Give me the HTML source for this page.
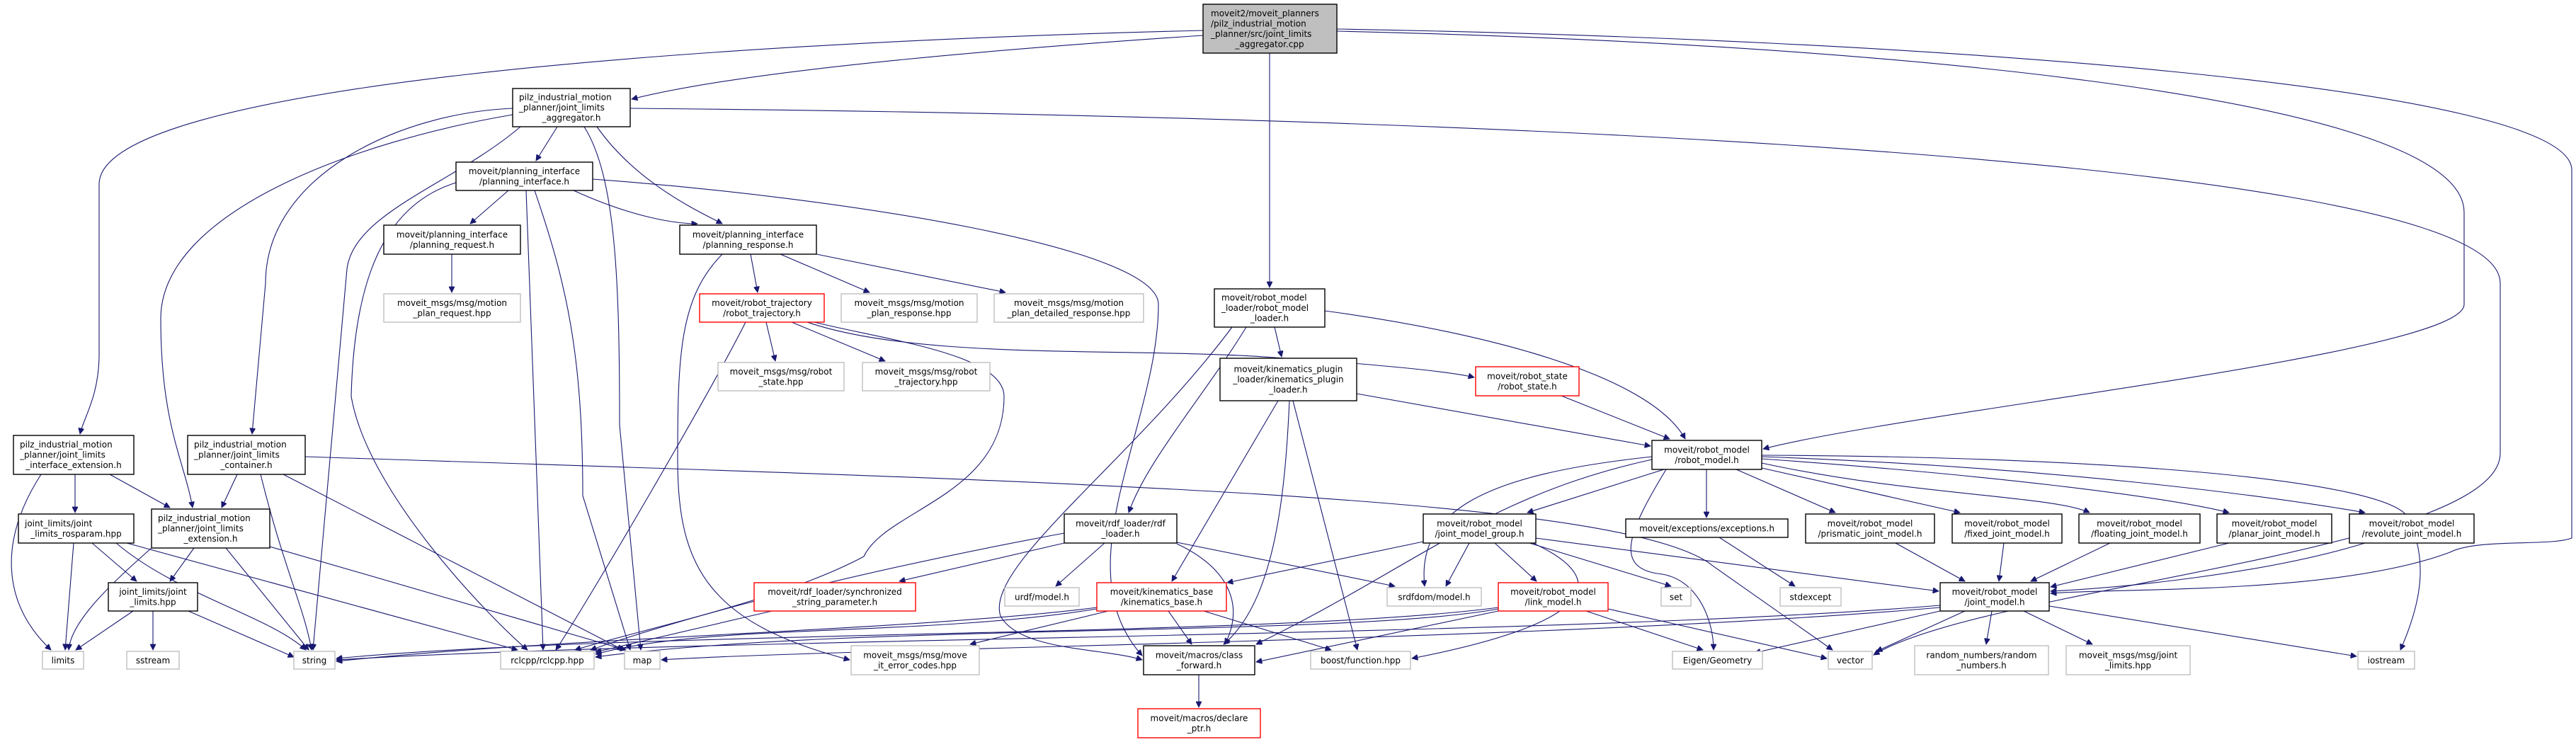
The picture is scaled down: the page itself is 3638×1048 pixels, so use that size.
<!DOCTYPE html>
<html><head><meta charset="utf-8"><style>
html,body{margin:0;padding:0;background:#fff;}
svg{display:block;}
text{font-family:"DejaVu Sans","Liberation Sans",sans-serif;font-size:12px;fill:#000;}
.b{fill:#fff;stroke:#000;stroke-width:1.4;}
.g{fill:#fff;stroke:#bfbfbf;stroke-width:1.4;}
.r{fill:#fff;stroke:#ff0000;stroke-width:1.4;}
.root{fill:#bfbfbf;stroke:#000;stroke-width:1.4;}
path.e{fill:none;stroke:#191970;stroke-width:1.1;marker-end:url(#a);}
</style></head><body>
<svg width="3638" height="1048" viewBox="0 0 3638 1048" xmlns="http://www.w3.org/2000/svg">
<defs><marker id="a" viewBox="0 0 10 10" refX="10" refY="5" markerWidth="11" markerHeight="8" markerUnits="userSpaceOnUse" orient="auto"><path d="M0,0 L10,5 L0,10 z" fill="#191970" stroke="#191970"/></marker></defs>

<!-- edges -->
<path class="e" d="M1699,50 C1400,70 1050,100 892,140"/>
<path class="e" d="M1699,43 C1000,60 140,120 140,260 L140,500 C140,560 118,590 113,613"/>
<path class="e" d="M1793,75 L1793,406"/>
<path class="e" d="M1888,44 C2600,60 3480,130 3480,300 L3480,430 C3480,500 2700,580 2490,634"/>
<path class="e" d="M1888,41 C2700,55 3632,120 3632,240 L3632,760 C3600,772 3500,760 3460,780 C3300,840 3000,830 2896,838"/>

<path class="e" d="M787,179 L757,227"/>
<path class="e" d="M843,179 C900,260 990,300 1020,316"/>
<path class="e" d="M825,179 C870,250 875,400 875,600 L905,918"/>
<path class="e" d="M735,179 C640,260 500,300 490,380 L442,918"/>
<path class="e" d="M724,153 C560,160 375,250 375,400 L356,613"/>
<path class="e" d="M724,162 C500,200 227,300 227,450 C227,600 260,650 272,717"/>
<path class="e" d="M890,153 C1700,160 3531,200 3531,400 L3531,640 C3531,780 2800,830 2646,925"/>

<path class="e" d="M718,269 L664,316"/>
<path class="e" d="M810,269 C900,310 960,316 985,316"/>
<path class="e" d="M743,269 C750,500 760,700 767,918"/>
<path class="e" d="M755,269 C800,400 823,500 823,700 L890,918"/>
<path class="e" d="M644,258 C540,290 500,400 496,560 C520,700 700,880 745,918"/>
<path class="e" d="M837,253 C1200,280 1636,350 1636,430 C1636,600 1500,800 1613,926"/>

<path class="e" d="M638,359 L638,413"/>
<path class="e" d="M1060,359 L1070,413"/>
<path class="e" d="M1102,359 L1228,413"/>
<path class="e" d="M1153,359 L1420,413"/>
<path class="e" d="M1020,359 C960,420 957,500 957,650 C957,800 1000,880 1200,932"/>

<path class="e" d="M1082,455 L1095,510"/>
<path class="e" d="M1118,455 L1250,510"/>
<path class="e" d="M1140,455 C1300,510 1600,490 1800,505 C1950,515 2050,525 2082,533"/>
<path class="e" d="M1053,455 C1000,560 830,850 785,918"/>
<path class="e" d="M1150,455 C1250,480 1418,500 1418,560 C1418,700 1250,720 1220,786 C1100,850 900,890 812,918"/>

<path class="e" d="M1800,462 L1810,504"/>
<path class="e" d="M1871,439 C2100,470 2330,530 2380,620"/>
<path class="e" d="M1760,462 C1700,560 1620,650 1594,724"/>
<path class="e" d="M1740,462 C1600,650 1390,800 1413,870 C1440,920 1560,915 1613,932"/>
<path class="e" d="M1916,556 L2331,630"/>
<path class="e" d="M1805,566 L1655,821"/>
<path class="e" d="M1821,566 C1815,700 1800,850 1728,910"/>
<path class="e" d="M1826,566 L1917,918"/>
<path class="e" d="M2205,559 L2358,620"/>

<path class="e" d="M2350,663 L2157,724"/>
<path class="e" d="M2410,663 L2410,731"/>
<path class="e" d="M2333,645 C2100,670 2000,720 2012,828"/>
<path class="e" d="M2333,649 C2100,700 2000,800 1774,910"/>
<path class="e" d="M2353,663 C2300,750 2280,800 2340,810 C2400,815 2420,880 2420,918"/>
<path class="e" d="M2452,663 L2592,724"/>
<path class="e" d="M2488,661 L2768,724"/>
<path class="e" d="M2488,654 C2700,700 2900,700 2951,724"/>
<path class="e" d="M2488,648 C2800,670 3050,700 3148,724"/>
<path class="e" d="M2488,645 C2900,660 3200,700 3340,724"/>
<path class="e" d="M2488,643 C3000,645 3370,680 3400,730 C3430,790 3420,850 3390,918"/>

<path class="e" d="M1560,767 L1491,828"/>
<path class="e" d="M1503,767 L1270,821"/>
<path class="e" d="M1662,766 L1970,828"/>
<path class="e" d="M1662,768 C1730,800 1760,850 1730,910"/>
<path class="e" d="M1503,753 C1250,800 1000,860 834,918"/>

<path class="e" d="M2010,765 L1733,823"/>
<path class="e" d="M2075,767 L2042,828"/>
<path class="e" d="M2111,767 L2170,821"/>
<path class="e" d="M2160,767 L2360,828"/>
<path class="e" d="M2169,760 L2738,835"/>
<path class="e" d="M2165,767 C2280,820 2250,880 1994,930"/>
<path class="e" d="M2428,759 L2535,828"/>

<path class="e" d="M2677,767 L2775,821"/>
<path class="e" d="M2830,767 L2823,821"/>
<path class="e" d="M2980,767 L2868,821"/>
<path class="e" d="M3148,767 L2896,829"/>
<path class="e" d="M3340,767 C3200,810 3000,830 2896,835"/>

<path class="e" d="M2740,863 L2478,922"/>
<path class="e" d="M2775,863 L2650,920"/>
<path class="e" d="M2813,863 L2805,910"/>
<path class="e" d="M2858,863 L2955,910"/>
<path class="e" d="M2894,856 L3328,927"/>
<path class="e" d="M2740,855 C2200,900 1000,900 475,932"/>
<path class="e" d="M2740,858 C2200,905 1200,915 934,932"/>

<path class="e" d="M2116,863 L1774,935"/>
<path class="e" d="M2240,863 L2405,918"/>
<path class="e" d="M2271,860 L2580,930"/>
<path class="e" d="M2116,858 C1800,900 900,890 475,930"/>
<path class="e" d="M2116,860 C1900,900 1200,880 841,928"/>

<path class="e" d="M1650,863 L1683,910"/>
<path class="e" d="M1700,863 L1880,918"/>
<path class="e" d="M1565,863 L1370,910"/>
<path class="e" d="M1549,858 C1300,890 800,900 475,934"/>
<path class="e" d="M1549,860 C1300,900 1000,880 841,924"/>
<path class="e" d="M1090,863 L841,921"/>
<path class="e" d="M1693,953 L1693,999"/>

<path class="e" d="M106,670 L106,724"/>
<path class="e" d="M155,670 L240,717"/>
<path class="e" d="M58,670 C0,760 0,850 72,918"/>
<path class="e" d="M335,670 L313,717"/>
<path class="e" d="M368,670 C400,800 430,860 440,918"/>
<path class="e" d="M400,670 L880,918"/>
<path class="e" d="M431,645 C1500,680 2300,700 2420,800 L2588,918"/>
<path class="e" d="M104,767 L92,918"/>
<path class="e" d="M130,767 L193,821"/>
<path class="e" d="M164,767 C250,840 380,870 432,918"/>
<path class="e" d="M179,767 L731,918"/>
<path class="e" d="M274,774 L240,821"/>
<path class="e" d="M214,774 C150,830 100,880 97,918"/>
<path class="e" d="M319,774 L436,918"/>
<path class="e" d="M381,772 L884,918"/>
<path class="e" d="M188,863 L107,918"/>
<path class="e" d="M216,863 L216,918"/>
<path class="e" d="M266,863 L415,928"/>

<!-- nodes -->
<rect class="root" x="1699" y="6" width="189" height="69"/>
<text x="1710" y="23">moveit2/moveit_planners</text><text x="1710" y="37.5">/pilz_industrial_motion</text><text x="1710" y="52">_planner/src/joint_limits</text><text x="1793" y="66.5" text-anchor="middle">_aggregator.cpp</text>

<rect class="b" x="724" y="125" width="166" height="54"/>
<text x="733" y="141.5">pilz_industrial_motion</text><text x="733" y="156">_planner/joint_limits</text><text x="807" y="170.5" text-anchor="middle">_aggregator.h</text>

<rect class="b" x="644" y="229" width="193" height="40"/>
<text x="740.5" y="246" text-anchor="middle">moveit/planning_interface</text><text x="740.5" y="260.5" text-anchor="middle">/planning_interface.h</text>

<rect class="b" x="542" y="318" width="193" height="41"/>
<text x="638.5" y="335.5" text-anchor="middle">moveit/planning_interface</text><text x="638.5" y="350" text-anchor="middle">/planning_request.h</text>

<rect class="b" x="960" y="318" width="193" height="41"/>
<text x="1056.5" y="335.5" text-anchor="middle">moveit/planning_interface</text><text x="1056.5" y="350" text-anchor="middle">/planning_response.h</text>

<rect class="g" x="542" y="415" width="193" height="40"/>
<text x="638.5" y="432" text-anchor="middle">moveit_msgs/msg/motion</text><text x="638.5" y="446.5" text-anchor="middle">_plan_request.hpp</text>

<rect class="r" x="988" y="415" width="176" height="40"/>
<text x="1076" y="432" text-anchor="middle">moveit/robot_trajectory</text><text x="1076" y="446.5" text-anchor="middle">/robot_trajectory.h</text>

<rect class="g" x="1188" y="415" width="192" height="40"/>
<text x="1284" y="432" text-anchor="middle">moveit_msgs/msg/motion</text><text x="1284" y="446.5" text-anchor="middle">_plan_response.hpp</text>

<rect class="g" x="1404" y="415" width="211" height="40"/>
<text x="1509.5" y="432" text-anchor="middle">moveit_msgs/msg/motion</text><text x="1509.5" y="446.5" text-anchor="middle">_plan_detailed_response.hpp</text>

<rect class="b" x="1715" y="408" width="156" height="54"/>
<text x="1725" y="424.5">moveit/robot_model</text><text x="1725" y="439">_loader/robot_model</text><text x="1793" y="453.5" text-anchor="middle">_loader.h</text>

<rect class="b" x="1723" y="506" width="193" height="60"/>
<text x="1819.5" y="525.5" text-anchor="middle">moveit/kinematics_plugin</text><text x="1819.5" y="540" text-anchor="middle">_loader/kinematics_plugin</text><text x="1819.5" y="554.5" text-anchor="middle">_loader.h</text>

<rect class="r" x="2084" y="518" width="146" height="41"/>
<text x="2157" y="535.5" text-anchor="middle">moveit/robot_state</text><text x="2157" y="550" text-anchor="middle">/robot_state.h</text>

<rect class="g" x="1014" y="512" width="178" height="40"/>
<text x="1103" y="529" text-anchor="middle">moveit_msgs/msg/robot</text><text x="1103" y="543.5" text-anchor="middle">_state.hpp</text>

<rect class="g" x="1218" y="512" width="180" height="40"/>
<text x="1308" y="529" text-anchor="middle">moveit_msgs/msg/robot</text><text x="1308" y="543.5" text-anchor="middle">_trajectory.hpp</text>

<rect class="b" x="19" y="615" width="170" height="55"/>
<text x="28" y="632">pilz_industrial_motion</text><text x="28" y="646.5">_planner/joint_limits</text><text x="104" y="661" text-anchor="middle">_interface_extension.h</text>

<rect class="b" x="265" y="615" width="166" height="55"/>
<text x="274" y="632">pilz_industrial_motion</text><text x="274" y="646.5">_planner/joint_limits</text><text x="348" y="661" text-anchor="middle">_container.h</text>

<rect class="b" x="26" y="726" width="163" height="41"/>
<text x="35" y="743.5">joint_limits/joint</text><text x="107.5" y="758" text-anchor="middle">_limits_rosparam.hpp</text>

<rect class="b" x="214" y="719" width="167" height="55"/>
<text x="223" y="736">pilz_industrial_motion</text><text x="223" y="750.5">_planner/joint_limits</text><text x="297.5" y="765" text-anchor="middle">_extension.h</text>

<rect class="b" x="153" y="823" width="126" height="40"/>
<text x="216" y="840" text-anchor="middle">joint_limits/joint</text><text x="216" y="854.5" text-anchor="middle">_limits.hpp</text>

<rect class="g" x="60" y="920" width="58" height="25"/><text x="89" y="937" text-anchor="middle">limits</text>
<rect class="g" x="179" y="920" width="74" height="25"/><text x="216" y="937" text-anchor="middle">sstream</text>
<rect class="g" x="415" y="920" width="58" height="25"/><text x="444" y="937" text-anchor="middle">string</text>
<rect class="g" x="707" y="920" width="132" height="25"/><text x="773" y="937" text-anchor="middle">rclcpp/rclcpp.hpp</text>
<rect class="g" x="882" y="920" width="50" height="25"/><text x="907" y="937" text-anchor="middle">map</text>

<rect class="r" x="1065" y="823" width="228" height="40"/>
<text x="1179" y="840" text-anchor="middle">moveit/rdf_loader/synchronized</text><text x="1179" y="854.5" text-anchor="middle">_string_parameter.h</text>

<rect class="g" x="1202" y="912" width="181" height="41"/>
<text x="1292.5" y="929.5" text-anchor="middle">moveit_msgs/msg/move</text><text x="1292.5" y="944" text-anchor="middle">_it_error_codes.hpp</text>

<rect class="b" x="2333" y="622" width="155" height="41"/>
<text x="2410.5" y="639.5" text-anchor="middle">moveit/robot_model</text><text x="2410.5" y="654" text-anchor="middle">/robot_model.h</text>

<rect class="b" x="1503" y="726" width="159" height="41"/>
<text x="1582.5" y="743.5" text-anchor="middle">moveit/rdf_loader/rdf</text><text x="1582.5" y="758" text-anchor="middle">_loader.h</text>

<rect class="b" x="2010" y="726" width="159" height="41"/>
<text x="2089.5" y="743.5" text-anchor="middle">moveit/robot_model</text><text x="2089.5" y="758" text-anchor="middle">/joint_model_group.h</text>

<rect class="b" x="2296" y="733" width="229" height="26"/><text x="2410.5" y="750.5" text-anchor="middle">moveit/exceptions/exceptions.h</text>

<rect class="g" x="1419" y="830" width="105" height="26"/><text x="1471.5" y="847.5" text-anchor="middle">urdf/model.h</text>

<rect class="r" x="1549" y="823" width="183" height="40"/>
<text x="1640.5" y="840" text-anchor="middle">moveit/kinematics_base</text><text x="1640.5" y="854.5" text-anchor="middle">/kinematics_base.h</text>

<rect class="g" x="1959" y="830" width="133" height="26"/><text x="2025.5" y="847.5" text-anchor="middle">srdfdom/model.h</text>

<rect class="r" x="2116" y="823" width="155" height="40"/>
<text x="2193.5" y="840" text-anchor="middle">moveit/robot_model</text><text x="2193.5" y="854.5" text-anchor="middle">/link_model.h</text>

<rect class="g" x="2346" y="830" width="42" height="26"/><text x="2367" y="847.5" text-anchor="middle">set</text>

<rect class="b" x="1615" y="912" width="157" height="41"/>
<text x="1693.5" y="929.5" text-anchor="middle">moveit/macros/class</text><text x="1693.5" y="944" text-anchor="middle">_forward.h</text>

<rect class="g" x="1851" y="920" width="141" height="25"/><text x="1921.5" y="937" text-anchor="middle">boost/function.hpp</text>
<rect class="g" x="2362" y="920" width="127" height="25"/><text x="2425.5" y="937" text-anchor="middle">Eigen/Geometry</text>

<rect class="r" x="1607" y="1001" width="173" height="41"/>
<text x="1693.5" y="1018.5" text-anchor="middle">moveit/macros/declare</text><text x="1693.5" y="1033" text-anchor="middle">_ptr.h</text>

<rect class="b" x="2550" y="726" width="182" height="41"/>
<text x="2641" y="743.5" text-anchor="middle">moveit/robot_model</text><text x="2641" y="758" text-anchor="middle">/prismatic_joint_model.h</text>
<rect class="b" x="2757" y="726" width="155" height="41"/>
<text x="2834.5" y="743.5" text-anchor="middle">moveit/robot_model</text><text x="2834.5" y="758" text-anchor="middle">/fixed_joint_model.h</text>
<rect class="b" x="2936" y="726" width="171" height="41"/>
<text x="3021.5" y="743.5" text-anchor="middle">moveit/robot_model</text><text x="3021.5" y="758" text-anchor="middle">/floating_joint_model.h</text>
<rect class="b" x="3131" y="726" width="162" height="41"/>
<text x="3212" y="743.5" text-anchor="middle">moveit/robot_model</text><text x="3212" y="758" text-anchor="middle">/planar_joint_model.h</text>
<rect class="b" x="3318" y="726" width="176" height="41"/>
<text x="3406" y="743.5" text-anchor="middle">moveit/robot_model</text><text x="3406" y="758" text-anchor="middle">/revolute_joint_model.h</text>

<rect class="g" x="2514" y="830" width="86" height="26"/><text x="2557" y="847.5" text-anchor="middle">stdexcept</text>

<rect class="b" x="2740" y="823" width="154" height="40"/>
<text x="2817" y="840" text-anchor="middle">moveit/robot_model</text><text x="2817" y="854.5" text-anchor="middle">/joint_model.h</text>

<rect class="g" x="2582" y="920" width="62" height="25"/><text x="2613" y="937" text-anchor="middle">vector</text>
<rect class="g" x="2704" y="912" width="189" height="41"/>
<text x="2798.5" y="929.5" text-anchor="middle">random_numbers/random</text><text x="2798.5" y="944" text-anchor="middle">_numbers.h</text>
<rect class="g" x="2918" y="912" width="175" height="41"/>
<text x="3005.5" y="929.5" text-anchor="middle">moveit_msgs/msg/joint</text><text x="3005.5" y="944" text-anchor="middle">_limits.hpp</text>
<rect class="g" x="3330" y="920" width="80" height="25"/><text x="3370" y="937" text-anchor="middle">iostream</text>
</svg>
</body></html>
